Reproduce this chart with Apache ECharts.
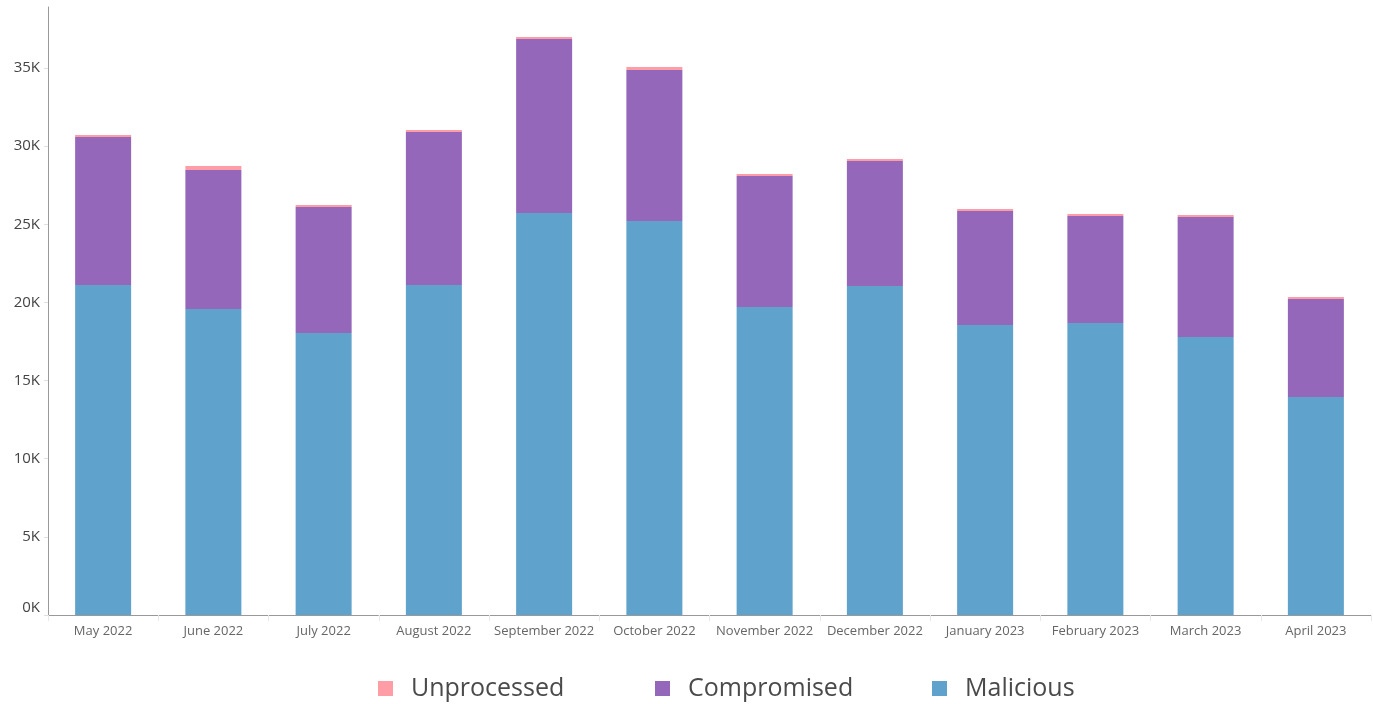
<!DOCTYPE html>
<html>
<head>
<meta charset="utf-8">
<script src="https://cdn.jsdelivr.net/npm/echarts@6/dist/echarts.min.js"></script>
<style>
html,body{margin:0;padding:0;background:#fff;}
#chart{width:1373px;height:704px;}
</style>
</head>
<body>
<div id="chart"></div>
<script>
const categories = ["May 2022","June 2022","July 2022","August 2022","September 2022","October 2022","November 2022","December 2022","January 2023","February 2023","March 2023","April 2023"];
const malicious   = [21110, 19580, 18040, 21110, 25720, 25210, 19710, 21050, 18550, 18680, 17790, 13950];
const compromised = [9470, 8890, 8060, 9790, 11130, 9660, 8380, 8000, 7300, 6850, 7670, 6270];
const unprocessed = [130, 260, 130, 130, 130, 190, 130, 130, 130, 130, 130, 130];
const yTicks = [0, 5000, 10000, 15000, 20000, 25000, 30000, 35000];
const legendNames = ['Unprocessed', 'Compromised', 'Malicious'];

const font = "'Open Sans', 'Noto Sans', sans-serif";
const legendLefts = [373, 650, 927];
const chart = echarts.init(document.getElementById('chart'));
chart.setOption({
  animation: false,
  textStyle: { fontFamily: font },
  grid: { left: 48, right: 2, top: 7, bottom: 89 },
  legend: legendNames.map((n, i) => ({
    data: [n],
    left: legendLefts[i], top: 671,
    icon: 'rect', itemWidth: 15, itemHeight: 15,
    textStyle: { fontSize: 25, color: '#4a4a4a', fontFamily: font, padding: [0, 0, 0, 13] }
  })),
  xAxis: {
    type: 'category',
    data: categories,
    axisLine: { lineStyle: { color: '#999', width: 1 } },
    axisTick: { show: true, length: 6, lineStyle: { color: '#e8e8e8' } },
    axisLabel: { color: '#666', fontSize: 13, margin: 10, interval: 0, fontFamily: font }
  },
  yAxis: {
    type: 'value',
    min: 0, max: 38900, interval: 5000,
    splitLine: { show: false },
    axisLine: { show: true, lineStyle: { color: '#999', width: 1 } },
    axisTick: { show: true, length: 4, lineStyle: { color: '#e0e0e0' } },
    axisLabel: {
      color: '#444', fontSize: 15, margin: 8, fontFamily: font,
      showMaxLabel: false,
      verticalAlignMinLabel: 'bottom',
      formatter: v => (yTicks.indexOf(v) >= 0 ? (v / 1000) + 'K' : '')
    }
  },
  series: [
    { name: 'Malicious', type: 'bar', stack: 'total', data: malicious, barWidth: 56, itemStyle: { color: '#5fa2cc' } },
    { name: 'Compromised', type: 'bar', stack: 'total', data: compromised, barWidth: 56, itemStyle: { color: '#9467bb' } },
    { name: 'Unprocessed', type: 'bar', stack: 'total', data: unprocessed, barWidth: 56, itemStyle: { color: '#ff9da7' } }
  ]
});
</script>
</body>
</html>
